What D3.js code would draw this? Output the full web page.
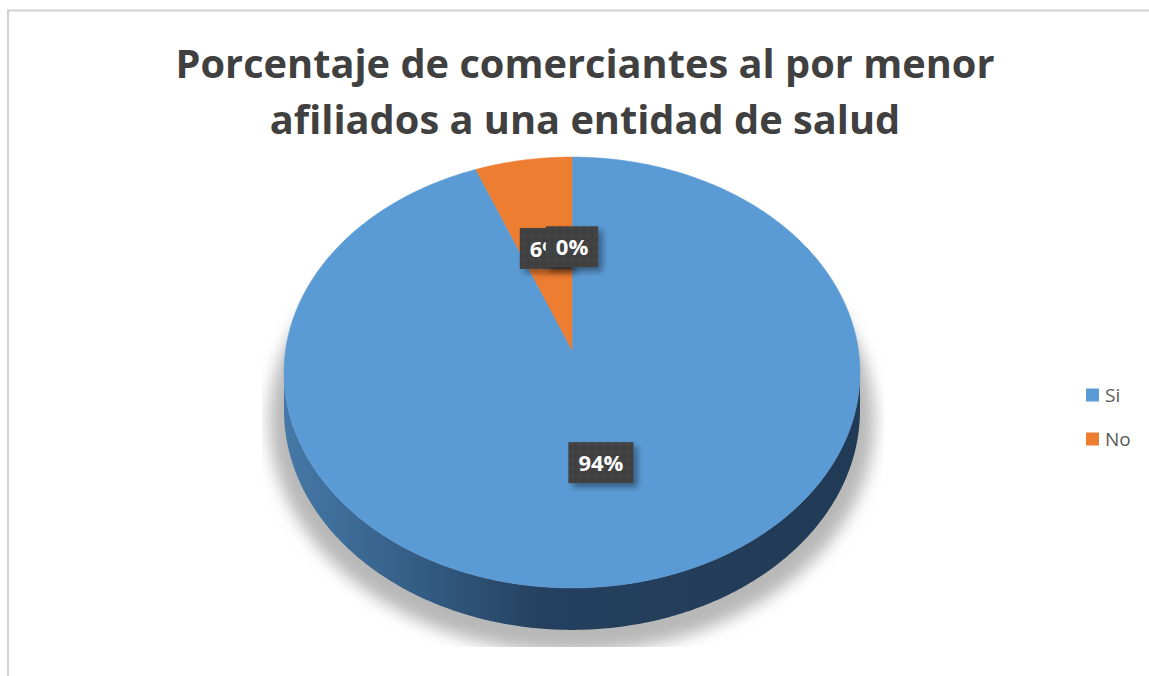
<!DOCTYPE html>
<html><head><meta charset="utf-8">
<script src="https://cdn.jsdelivr.net/npm/d3@7"></script>
<style>body{margin:0;background:#fff;overflow:hidden} svg{display:block}</style>
</head><body>
<script>
// ---- data ----
const categories = ["Si", "No", ""];
const values = [94, 6, 0];
const valueLabels = ["94%", "6%", "0%"];
const legendCategories = ["Si", "No"];
const sliceColors = ["#5b9bd5", "#ed7d31", "#a5a5a5"];
const titleLines = ["Porcentaje de comerciantes al por menor", "afiliados a una entidad de salud"];

// ---- layout ----
const W = 1149, H = 676;
const cx = 572, cy = 350, a = 286.4, b = 213.1, p = 0.1044, depth = 37.6;

const svg = d3.select("body").append("svg").attr("width", W).attr("height", H);
const defs = svg.append("defs");

function proj(theta, r, drop) {
  const u = r * Math.sin(theta), v = -r * Math.cos(theta);
  const w = 1 - p * v;
  return [cx + a * u / w, cy + (b * v + drop) / w];
}
function arcPts(t0, t1, r, drop) {
  const n = Math.max(2, Math.ceil(Math.abs(t1 - t0) / 0.01));
  return d3.range(n + 1).map(i => proj(t0 + (t1 - t0) * i / n, r, drop));
}
const line = d3.line();

const pie = d3.pie().sort(null).value(d => d)(values);

const blur = defs.append("filter").attr("id", "blur").attr("x", "-20%").attr("y", "-20%").attr("width", "140%").attr("height", "140%");
blur.append("feGaussianBlur").attr("stdDeviation", 8);

const lblSh = defs.append("filter").attr("id", "lblsh").attr("x", "-30%").attr("y", "-30%").attr("width", "160%").attr("height", "160%");
lblSh.append("feDropShadow").attr("dx", 4).attr("dy", 4).attr("stdDeviation", 3)
  .attr("flood-color", "#000").attr("flood-opacity", 0.4);

const grad = defs.append("linearGradient").attr("id", "sideGrad")
  .attr("gradientUnits", "userSpaceOnUse").attr("x1", cx - 290).attr("x2", cx + 290).attr("y1", 0).attr("y2", 0);
[[0, "#4679a8"], [0.25, "#325b82"], [0.45, "#25405e"], [1, "#213a56"]]
  .forEach(([o, c]) => grad.append("stop").attr("offset", o).attr("stop-color", c));

const pat = defs.append("pattern").attr("id", "dots").attr("patternUnits", "userSpaceOnUse")
  .attr("width", 8).attr("height", 8);
pat.append("rect").attr("width", 8).attr("height", 8).attr("fill", "#3f3f3f");
pat.append("circle").attr("cx", 4).attr("cy", 4).attr("r", 2.2).attr("fill", "#444444");

defs.append("clipPath").attr("id", "shClip").append("rect")
  .attr("x", 262).attr("y", 300).attr("width", 622).attr("height", 347);

// border
svg.append("rect").attr("x", 8).attr("y", 10.5).attr("width", 1200).attr("height", 800)
  .attr("fill", "none").attr("stroke", "#d0d0d0").attr("stroke-width", 2);

// shadow
svg.append("g").attr("clip-path", "url(#shClip)")
  .append("path")
  .attr("d", line(arcPts(0, 2 * Math.PI, 1.05, depth + 8)) + "Z")
  .attr("fill", "#b8b8b8").attr("filter", "url(#blur)");

// side wall (front visible part)
const tL = Math.acos(-p);
const side0 = tL, side1 = 2 * Math.PI - tL;
pie.forEach((d, i) => {
  const s = Math.max(d.startAngle, side0), e = Math.min(d.endAngle, side1);
  if (e <= s) return;
  const top = arcPts(s, e, 1, 0);
  const bot = arcPts(e, s, 1, depth);
  svg.append("path").attr("d", line(top.concat(bot)) + "Z").attr("fill", "url(#sideGrad)");
});

// top faces
pie.forEach((d, i) => {
  if (d.endAngle - d.startAngle <= 0) return;
  const pts = [proj(0, 0, 0)].concat(arcPts(d.startAngle, d.endAngle, 1, 0));
  svg.append("path").attr("d", line(pts) + "Z").attr("fill", sliceColors[i])
    .attr("stroke", sliceColors[i]).attr("stroke-width", 0.5);
});

// data labels
pie.forEach((d, i) => {
  const mid = (d.startAngle + d.endAngle) / 2;
  const [lx, ly] = proj(mid, 0.51, 0);
  const g = svg.append("g");
  const t = g.append("text").text(valueLabels[i])
    .attr("font-family", "Open Sans").attr("font-weight", "bold").attr("font-size", 22)
    .attr("fill", "#fff").attr("text-anchor", "middle").attr("x", lx).attr("y", ly + 8);
  const tw = t.node().getComputedTextLength();
  const bw = tw + 20, bh = 41;
  g.insert("rect", "text").attr("x", lx - bw / 2).attr("y", ly - bh / 2).attr("width", bw).attr("height", bh)
    .attr("fill", "url(#dots)").attr("filter", "url(#lblsh)");
});

// title
const title = svg.append("g");
const tl = titleLines.map((s, i) => title.append("text").text(s)
  .attr("x", 585).attr("y", [78, 134][i]).attr("text-anchor", "middle")
  .attr("font-family", "Open Sans").attr("font-weight", "bold").attr("font-size", 40).attr("fill", "#404040"));
const w0 = tl[0].node().getComputedTextLength();
const fs = 40 * 819 / w0;
tl.forEach(t => t.attr("font-size", fs));

// legend
const lg = svg.append("g");
const ly0 = 395, ldy = 44;
legendCategories.forEach((c, i) => {
  lg.append("rect").attr("x", 1086).attr("y", ly0 + i * ldy - 6.5).attr("width", 13).attr("height", 13)
    .attr("fill", sliceColors[i]);
  lg.append("text").text(c).attr("x", 1105).attr("y", ly0 + i * ldy + 7)
    .attr("font-family", "Open Sans").attr("font-size", 19).attr("fill", "#595959");
});
</script>
</body></html>
